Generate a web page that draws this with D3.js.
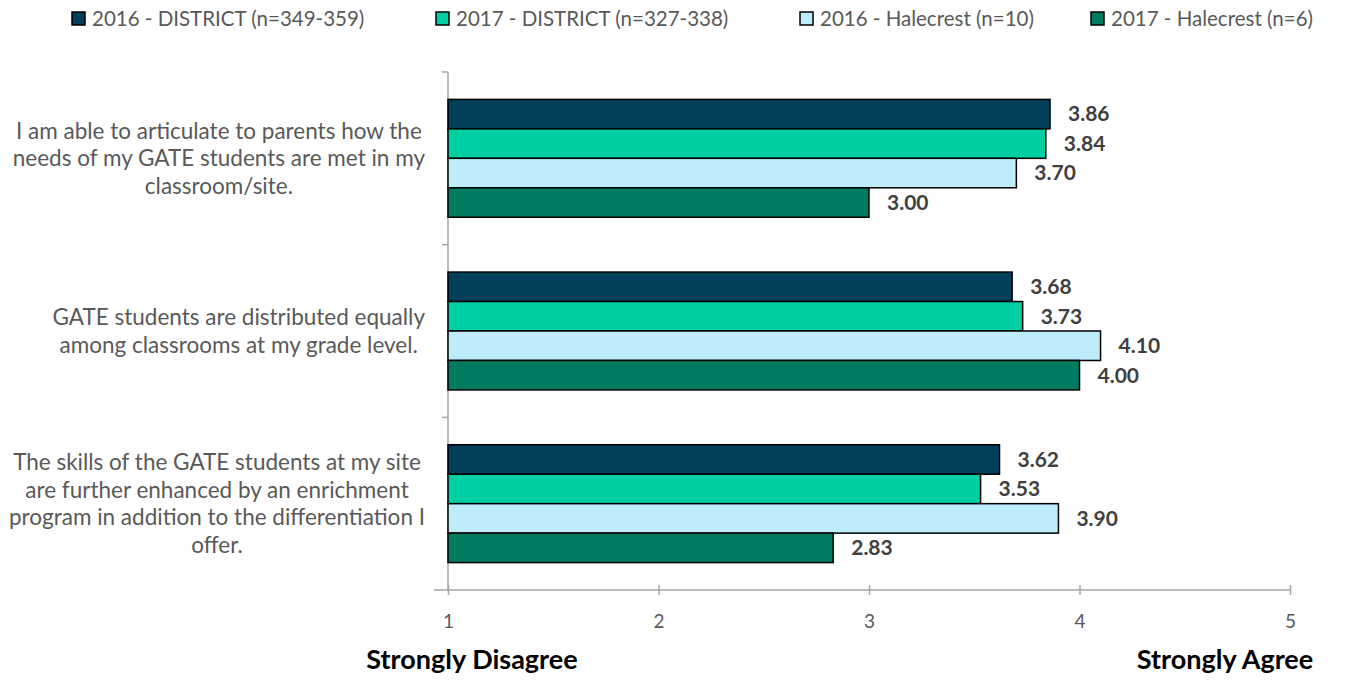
<!DOCTYPE html>
<html><head><meta charset="utf-8">
<script src="https://cdn.jsdelivr.net/npm/d3@7"></script>
<style>body{margin:0;background:#fff}svg{display:block}</style>
</head><body>
<svg id="c" width="1363" height="683"></svg>
<script>
const categories = [
  ["I am able to articulate to parents how the","needs of my GATE students are met in my","classroom/site."],
  ["GATE students are distributed equally","among classrooms at my grade level."],
  ["The skills of the GATE students at my site","are further enhanced by an enrichment","program in addition to the differentiation I","offer."]
];
const seriesNames = ["2016 - DISTRICT (n=349-359)","2017 - DISTRICT (n=327-338)","2016 - Halecrest (n=10)","2017 - Halecrest (n=6)"];
const district2016 = [3.86, 3.68, 3.62];
const district2017 = [3.84, 3.73, 3.53];
const halecrest2016 = [3.70, 4.10, 3.90];
const halecrest2017 = [3.00, 4.00, 2.83];
const xTicks = [1, 2, 3, 4, 5];
const colors = ["#023F5A","#00CFA4","#BFECFB","#007B61"];

const series = [district2016, district2017, halecrest2016, halecrest2017];
const svg = d3.select("#c");
const font = "Lato, 'Open Sans', sans-serif";

const x = d3.scaleLinear().domain([1,5]).range([448,1290]);
const y = d3.scaleBand().domain(d3.range(categories.length)).range([72,590]).padding(0);
const yi = d3.scaleBand().domain(d3.range(series.length)).range([0,y.bandwidth()]).paddingInner(0).paddingOuter(0.93);

// x axis
const xAxis = d3.axisBottom(x).tickValues(xTicks).tickFormat(d3.format("d")).tickSize(0).tickPadding(0);
const gx = svg.append("g").attr("transform","translate(0,590)").call(xAxis);
gx.select(".domain").remove();
gx.selectAll(".tick text").attr("dy",null).attr("y",38).style("font-family",font).style("font-size","19px").attr("fill","#595959");
gx.selectAll(".tick").append("line").attr("y1",-5).attr("y2",5).attr("stroke","#A6A6A6").attr("stroke-width",1.5);
svg.append("line").attr("x1",x(1)-14).attr("x2",x(5)).attr("y1",590).attr("y2",590).attr("stroke","#A6A6A6").attr("stroke-width",1.5);

// y axis
svg.append("line").attr("x1",x(1)).attr("x2",x(1)).attr("y1",72).attr("y2",590).attr("stroke","#A6A6A6").attr("stroke-width",1.5);
d3.range(categories.length).forEach(i=>{
  svg.append("line").attr("x1",x(1)-6).attr("x2",x(1)).attr("y1",y(i)).attr("y2",y(i)).attr("stroke","#A6A6A6").attr("stroke-width",1.5);
});

// bars
const g = svg.append("g");
categories.forEach((c,ci)=>{
  series.forEach((s,si)=>{
    g.append("rect")
      .attr("x",x(1))
      .attr("y",y(ci)+yi(si))
      .attr("width",x(s[ci])-x(1))
      .attr("height",yi.bandwidth())
      .attr("fill",colors[si]).attr("stroke","#000").attr("stroke-width",1.5);
    g.append("text")
      .attr("x",x(s[ci])+18)
      .attr("y",y(ci)+yi(si)+yi.bandwidth()/2)
      .attr("dy","0.35em")
      .style("font-family",font).style("font-size","21px").style("font-weight","bold")
      .attr("fill","#404040")
      .text(s[ci].toFixed(2));
  });
});

// category labels
categories.forEach((lines,ci)=>{
  const t = svg.append("text").style("font-family",font).style("font-size","22.5px").attr("fill","#595959").attr("text-anchor","middle");
  const lh = 27.5;
  const cy = y(ci)+y.bandwidth()/2;
  const y0 = cy - (lines.length-1)*lh/2;
  const spans = lines.map((l,li)=>t.append("tspan").attr("y",y0+li*lh).attr("dy","0.35em").text(l));
  let maxW = 0; spans.forEach(s=>{maxW=Math.max(maxW,s.node().getComputedTextLength());});
  const cx = 425 - maxW/2;
  spans.forEach(s=>s.attr("x",cx));
});

// legend
const legX = [72, 436, 800, 1091];
seriesNames.forEach((n,i)=>{
  svg.append("rect").attr("x",legX[i]).attr("y",12).attr("width",13).attr("height",13).attr("fill",colors[i]).attr("stroke","#000").attr("stroke-width",1.5);
  svg.append("text").attr("x",legX[i]+20).attr("y",19).attr("dy","0.35em").style("font-family",font).style("font-size","20.5px").attr("fill","#595959").text(n);
});

// end labels
svg.append("text").attr("x",472).attr("y",660).attr("text-anchor","middle").attr("dy","0.35em").style("font-family",font).style("font-size","27px").style("font-weight","bold").attr("fill","#000").text("Strongly Disagree");
svg.append("text").attr("x",1225).attr("y",660).attr("text-anchor","middle").attr("dy","0.35em").style("font-family",font).style("font-size","27px").style("font-weight","bold").attr("fill","#000").text("Strongly Agree");
</script>
</body></html>
